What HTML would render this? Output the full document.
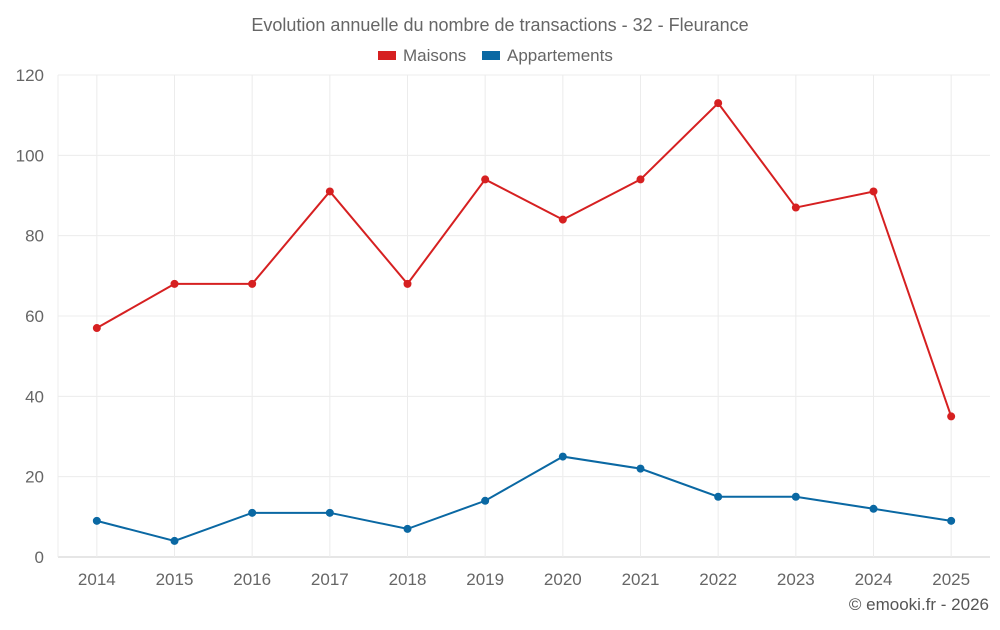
<!DOCTYPE html>
<html><head><meta charset="utf-8"><style>
body{margin:0;background:#fff;font-family:"Liberation Sans",sans-serif}
svg text{font-family:"Liberation Sans",sans-serif}
</style></head><body>
<svg id="chart" width="1000" height="625" xmlns="http://www.w3.org/2000/svg">
<text x="500" y="31" text-anchor="middle" font-size="18" fill="#666">Evolution annuelle du nombre de transactions - 32 - Fleurance</text>
<g>
<g><rect x="378" y="51" width="18" height="9" fill="#d62021"/><text x="403" y="61" font-size="17" fill="#666">Maisons</text></g>
<g><rect x="482" y="51" width="18" height="9" fill="#0a68a3"/><text x="507" y="61" font-size="17" fill="#666">Appartements</text></g>
</g>
<g id="grid"></g>
<g id="axes"></g>
<g id="series"></g>
<text x="989" y="610" text-anchor="end" font-size="17" fill="#555">© emooki.fr - 2026</text>
</svg>
<script>
const categories=["2014","2015","2016","2017","2018","2019","2020","2021","2022","2023","2024","2025"];
const maisons=[57,68,68,91,68,94,84,94,113,87,91,35];
const appartements=[9,4,11,11,7,14,25,22,15,15,12,9];
const yTicks=[0,20,40,60,80,100,120];
const L=58,R=990,T=75,B=557,yMax=120;
const bw=(R-L)/categories.length;
const x=i=>L+bw*(i+0.5);
const y=v=>B-(v/yMax)*(B-T);
const NS="http://www.w3.org/2000/svg";
function mk(tag,attrs,parent,txt){const e=document.createElementNS(NS,tag);for(const k in attrs)e.setAttribute(k,attrs[k]);if(txt!==undefined)e.textContent=txt;parent.appendChild(e);return e;}
const grid=document.getElementById('grid'),axes=document.getElementById('axes'),series=document.getElementById('series');
yTicks.forEach(t=>{
 const l=mk('line',{x1:L,x2:R,y1:y(t),y2:y(t),stroke:t===0?'#ccc':'#ececec','stroke-width':1},grid);
 
 
 const tx=mk('text',{x:L-14,y:y(t)+6,'text-anchor':'end','font-size':17,fill:'#666'},axes,String(t));
 
 
});
mk('line',{x1:L,x2:L,y1:T,y2:B,stroke:'#ececec'},grid);
categories.forEach((c,i)=>{
 const l=mk('line',{x1:x(i),x2:x(i),y1:T,y2:B,stroke:'#ececec'},grid);
 
 
 const tx=mk('text',{x:x(i),y:B+28,'text-anchor':'middle','font-size':17,fill:'#666'},axes,c);
 
 
});
function draw(data,color,name){
 const p=mk('polyline',{points:data.map((v,i)=>x(i)+','+y(v)).join(' '),fill:'none',stroke:color,'stroke-width':2},series);
 
 
 data.forEach((v,i)=>{
  const c=mk('circle',{cx:x(i),cy:y(v),r:4,fill:color},series);
  
  
 });
}
draw(maisons,'#d62021','maisons');
draw(appartements,'#0a68a3','appartements');
</script>
</body></html>
